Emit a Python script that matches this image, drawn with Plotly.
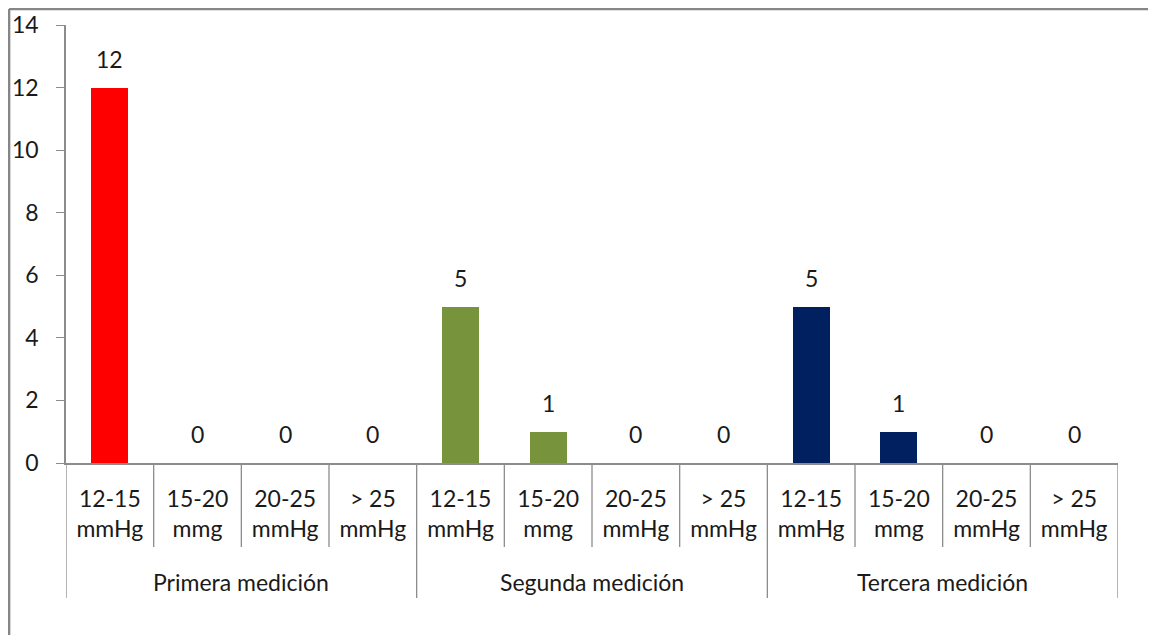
import plotly.graph_objects as go

groups = ["Primera medición", "Segunda medición", "Tercera medición"]
ranges = ["12-15<br>mmHg", "15-20<br>mmg", "20-25<br>mmHg", "> 25<br>mmHg"]
values = [12, 0, 0, 0, 5, 1, 0, 0, 5, 1, 0, 0]
group_colors = ["#FF0000", "#77933C", "#002060"]
y_ticks = [0, 2, 4, 6, 8, 10, 12, 14]

FONT = "Lato"
TXT = "#1a1a1a"
GRAY = "#8c8c8c"
FS = 23

n_sub = len(ranges)
xs = list(range(len(values)))
colors = [group_colors[i // n_sub] for i in xs]
ticktext = [ranges[i % n_sub] for i in xs]

fig = go.Figure()
fig.add_trace(go.Bar(
    x=xs, y=values, width=0.42,
    marker=dict(color=colors, line=dict(width=0)),
    hoverinfo="skip", showlegend=False,
))

# data labels
for x, v in zip(xs, values):
    fig.add_annotation(x=x, y=v, xref="x", yref="y", text=str(v), showarrow=False,
                       yanchor="bottom", yshift=13, font=dict(family=FONT, size=FS, color=TXT))

# group labels
for g, name in enumerate(groups):
    center = g * n_sub + (n_sub - 1) / 2
    fig.add_annotation(x=center, y=-0.272, xref="x", yref="paper", text=name, showarrow=False,
                       yanchor="middle", font=dict(family=FONT, size=FS, color=TXT))

# divider lines
for b in range(len(values) + 1):
    xb = b - 0.5
    is_group = (b % n_sub == 0)
    fig.add_shape(type="line", xref="x", yref="paper", x0=xb, x1=xb,
                  y0=0, y1=-0.308 if is_group else -0.192,
                  line=dict(color=GRAY, width=1.3))

# outer chart border (top and left)
fig.add_shape(type="line", xref="paper", yref="paper", x0=-0.0541, x1=1.2, y0=1.0365, y1=1.0365,
              line=dict(color="#868686", width=2.5))
fig.add_shape(type="line", xref="paper", yref="paper", x0=-0.0541, x1=-0.0541, y0=1.0365, y1=-0.6,
              line=dict(color="#868686", width=2.5))

fig.update_layout(
    width=1156, height=635,
    margin=dict(l=58, r=46, t=17, b=180),
    paper_bgcolor="white", plot_bgcolor="white",
    font=dict(family=FONT, size=FS, color=TXT),
    bargap=0,
    xaxis=dict(range=[-0.5, len(values) - 0.5], tickvals=xs, ticktext=ticktext,
               showline=True, linecolor=GRAY, linewidth=1.5, ticks="", showgrid=False,
               zeroline=False, tickfont=dict(family=FONT, size=FS, color=TXT),
               ticklabelstandoff=15, automargin=False),
    yaxis=dict(range=[0, 14], tickvals=y_ticks, showline=True, linecolor=GRAY, linewidth=1.5,
               ticks="outside", ticklen=8, tickcolor=GRAY, tickwidth=1.3, showgrid=False,
               zeroline=False, tickfont=dict(family=FONT, size=FS, color=TXT),
               ticklabelstandoff=13, automargin=False),
)

fig.write_html("out.html")
